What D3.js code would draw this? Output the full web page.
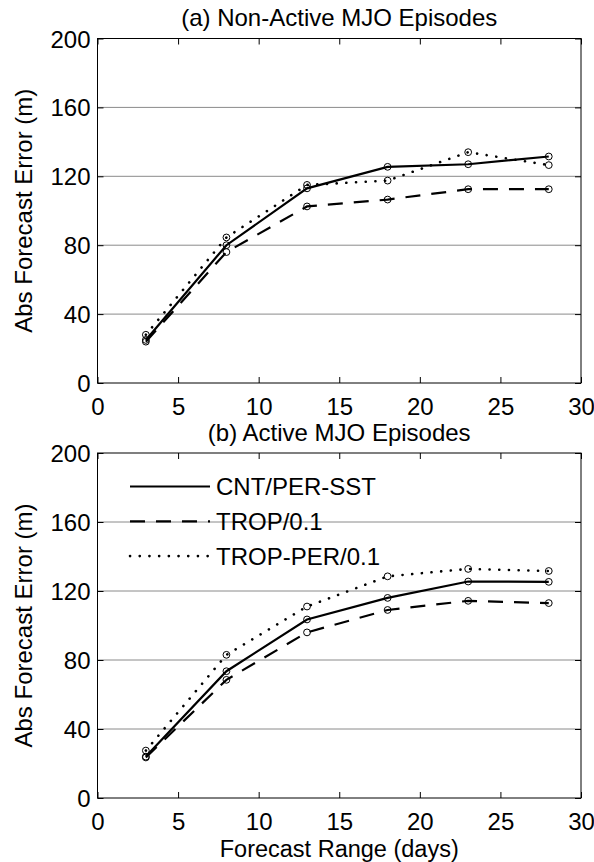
<!DOCTYPE html>
<html>
<head>
<meta charset="utf-8">
<script src="https://cdn.jsdelivr.net/npm/d3@7"></script>
<style>
  html, body { margin: 0; padding: 0; background: #fff; }
  svg { display: block; font-family: "Liberation Sans", Arial, Helvetica, sans-serif; }
</style>
</head>
<body>
<svg id="chart" width="594" height="862"></svg>
<script>
// ---- data ----
const days = [3, 8, 13, 18, 23, 28];
const seriesNames = ["CNT/PER-SST", "TROP/0.1", "TROP-PER/0.1"];
const nonActiveCNT     = [25, 80, 113, 125.5, 127, 131.5];
const nonActiveTROP    = [24, 76, 102.5, 106.5, 112.5, 112.5];
const nonActiveTROPPER = [28, 84.5, 115, 117.5, 134, 126.5];
const activeCNT        = [24, 73.5, 103.5, 116, 125.5, 125.3];
const activeTROP       = [23.5, 68.5, 96, 109, 114.3, 113];
const activeTROPPER    = [27.5, 83, 111, 128.5, 132.8, 131.6];
const xTicks = [0, 5, 10, 15, 20, 25, 30];
const yTicks = [0, 40, 80, 120, 160, 200];
const panelTitles = ["(a) Non-Active MJO Episodes", "(b) Active MJO Episodes"];
const yLabel = "Abs Forecast Error (m)";
const xLabel = "Forecast Range (days)";

const svg = d3.select("#chart");
const FS = 24;
const dashes = [null, "15,11", "0.1,9.6"];

const left = 97.5, right = 581;
const panels = [
  { top: 38.5, bottom: 383, data: [nonActiveCNT, nonActiveTROP, nonActiveTROPPER], title: panelTitles[0], legend: false, xlab: false },
  { top: 453, bottom: 798, data: [activeCNT, activeTROP, activeTROPPER], title: panelTitles[1], legend: true, xlab: true }
];

panels.forEach(p => {
  const x = d3.scaleLinear().domain([0, 30]).range([left, right]);
  const y = d3.scaleLinear().domain([0, 200]).range([p.bottom, p.top]);
  const g = svg.append("g");

  // gridlines
  g.selectAll("line.grid").data(yTicks.filter(t => t > 0 && t < 200)).enter().append("line")
    .attr("x1", left).attr("x2", right)
    .attr("y1", d => y(d)).attr("y2", d => y(d))
    .attr("stroke", "#8a8a8a").attr("stroke-width", 1);

  // axes with inward ticks
  const axB = d3.axisBottom(x).tickValues(xTicks).tickSize(-6).tickPadding(12).tickFormat(d3.format("d"));
  const axT = d3.axisTop(x).tickValues(xTicks).tickSize(-6).tickFormat("");
  const axL = d3.axisLeft(y).tickValues(yTicks).tickSize(-6).tickPadding(12).tickFormat(d3.format("d"));
  const axR = d3.axisRight(y).tickValues(yTicks).tickSize(-6).tickFormat("");

  const gb = g.append("g").attr("transform", `translate(0,${p.bottom})`).call(axB);
  const gt = g.append("g").attr("transform", `translate(0,${p.top})`).call(axT);
  const gl = g.append("g").attr("transform", `translate(${left},0)`).call(axL);
  const gr = g.append("g").attr("transform", `translate(${right},0)`).call(axR);
  [gb, gt, gl, gr].forEach(a => {
    a.select(".domain").remove();
    a.selectAll("line").attr("stroke", "#000");
    a.selectAll("text").attr("font-size", FS).attr("fill", "#000")
      .attr("font-family", "'Liberation Sans', Arial, sans-serif");
  });
  gb.selectAll("text").attr("dy", null).attr("y", 23).attr("dominant-baseline", "central");
  gl.selectAll("text").attr("dy", null).attr("x", -7).attr("dominant-baseline", "central");

  // frame
  g.append("rect").attr("x", left).attr("y", p.top)
    .attr("width", right - left).attr("height", p.bottom - p.top)
    .attr("fill", "none").attr("stroke", "#000").attr("stroke-width", 1);

  // title
  g.append("text").attr("x", (left + right) / 2).attr("y", p.top - 21)
    .attr("text-anchor", "middle").attr("dominant-baseline", "central")
    .attr("font-size", FS).text(p.title);

  // y label
  g.append("text")
    .attr("transform", `translate(23,${(p.top + p.bottom) / 2}) rotate(-90)`)
    .attr("text-anchor", "middle").attr("dominant-baseline", "central")
    .attr("font-size", FS).text(yLabel);

  // series
  const line = d3.line().x((d, i) => x(days[i])).y(d => y(d));
  p.data.forEach((vals, si) => {
    g.append("path").datum(vals).attr("d", line)
      .attr("fill", "none").attr("stroke", "#000")
      .attr("stroke-width", si === 2 ? 2.6 : 2.2)
      .attr("stroke-linecap", si === 2 ? "round" : "butt")
      .attr("stroke-dasharray", dashes[si]);
    g.selectAll(null).data(vals).enter().append("circle")
      .attr("cx", (d, i) => x(days[i])).attr("cy", d => y(d))
      .attr("r", 3.4).attr("fill", "none").attr("stroke", "#000").attr("stroke-width", 1);
  });

  if (p.legend) {
    const lg = g.append("g");
    seriesNames.forEach((name, si) => {
      const ly = 486.5 + si * 34.8;
      lg.append("line").attr("x1", 130).attr("x2", 210).attr("y1", ly).attr("y2", ly)
        .attr("stroke", "#000").attr("stroke-width", si === 2 ? 2.6 : 2.2)
        .attr("stroke-linecap", si === 2 ? "round" : "butt")
        .attr("stroke-dasharray", dashes[si]);
      lg.append("text").attr("x", 216).attr("y", ly)
        .attr("dominant-baseline", "central").attr("font-size", FS).text(name);
    });
  }

  if (p.xlab) {
    g.append("text").attr("x", (left + right) / 2).attr("y", p.bottom + 50.5)
      .attr("text-anchor", "middle").attr("dominant-baseline", "central")
      .attr("font-size", 23.5).text(xLabel);
  }
});
</script>
</body>
</html>
